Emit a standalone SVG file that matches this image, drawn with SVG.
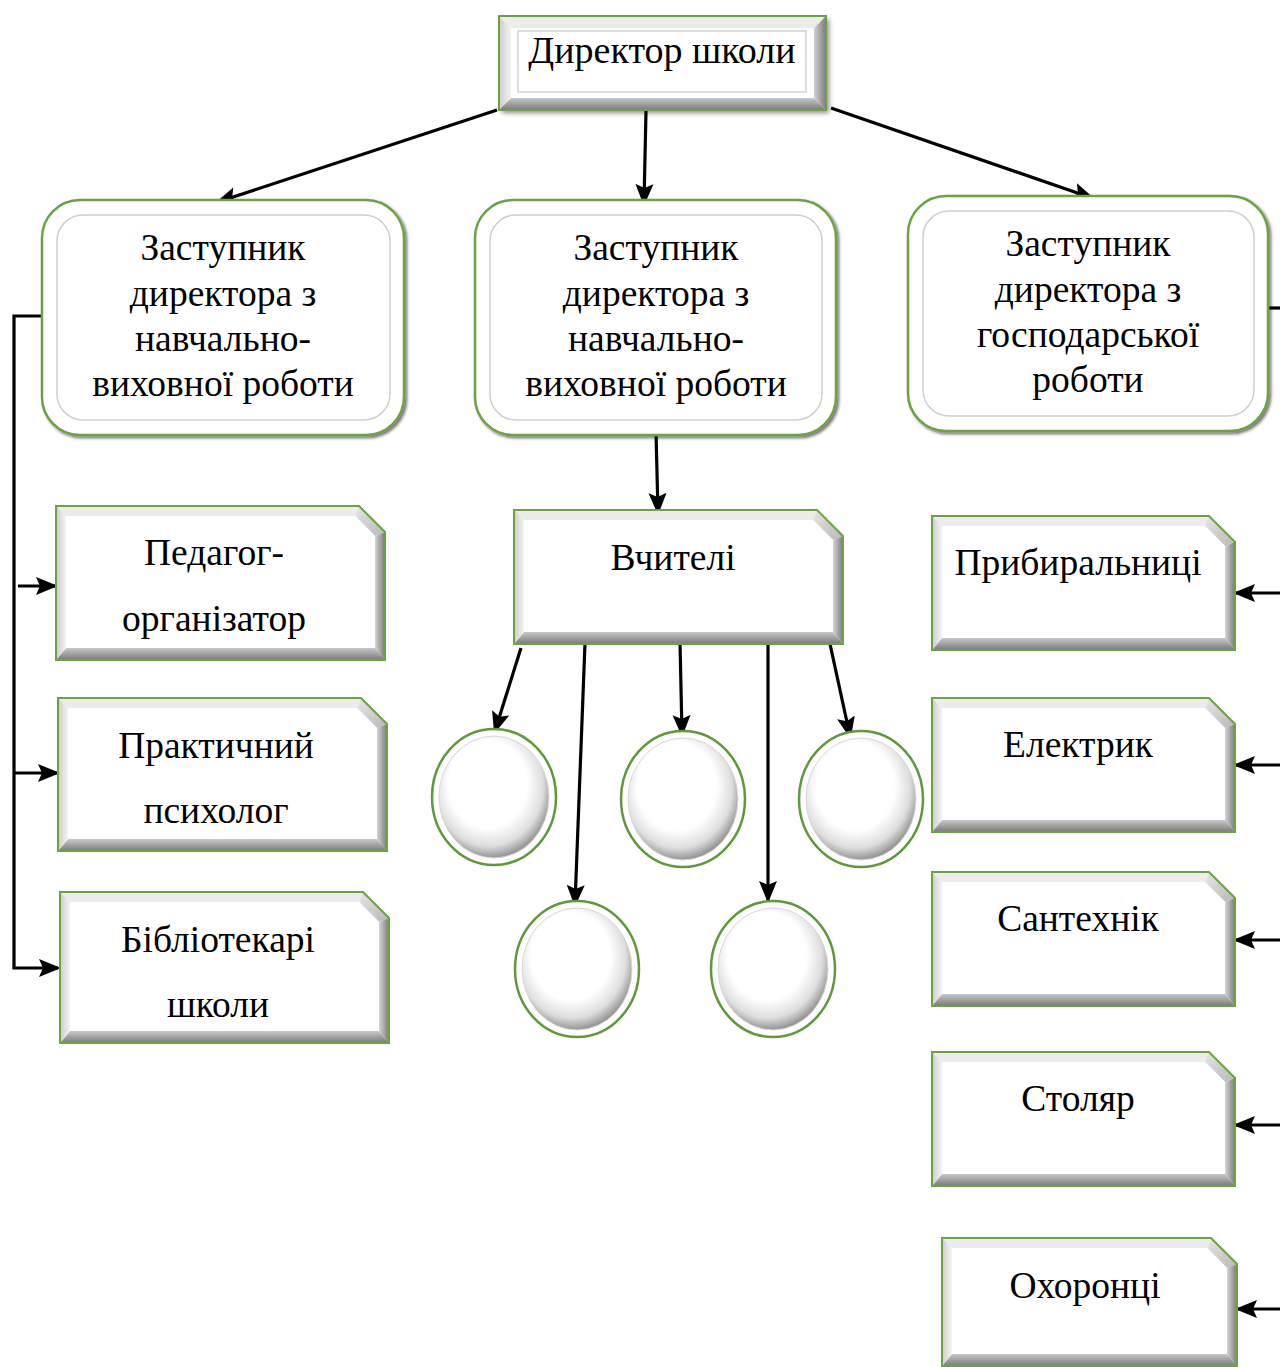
<svg xmlns="http://www.w3.org/2000/svg" width="1280" height="1367" viewBox="0 0 1280 1367">
<style>
text{font-family:"Liberation Serif","Times New Roman",serif;font-size:37.5px;fill:#000;text-anchor:middle}
.ol{fill:none;stroke:#6aa442;stroke-width:2}
.face{fill:#fff}
.bt{fill:#ececec}
.bc{fill:url(#gC)}
.br{fill:url(#gR)}
.bb{fill:url(#gB)}
.bl{fill:url(#gL)}
.rb{fill:#fff;stroke:#6aa442;stroke-width:2.5;filter:url(#sh)}
.rin{fill:#fff;stroke:#cfcfcf;stroke-width:1.5}
.co{fill:#fff;stroke:#5f9a3a;stroke-width:2.5}
.ci{fill:url(#gCi);stroke:#d8d8d8;stroke-width:1}
.cn{fill:none;stroke:#000;stroke-width:3.2}
.ar{marker-end:url(#ah)}
</style>
<defs>
<marker id="ah" markerUnits="userSpaceOnUse" viewBox="0 0 22 20" markerWidth="22" markerHeight="20" refX="19" refY="10" orient="auto">
<path d="M0,1 L22,10 L0,19 L4,10 z" fill="#000"/>
</marker>
<linearGradient id="gL" x1="0" y1="0" x2="1" y2="0"><stop offset="0" stop-color="#cccccc"/><stop offset="1" stop-color="#f4f4f4"/></linearGradient>
<linearGradient id="gR" x1="0" y1="0" x2="1" y2="0"><stop offset="0" stop-color="#d4d4d4"/><stop offset="1" stop-color="#7a7a7a"/></linearGradient>
<linearGradient id="gB" x1="0" y1="0" x2="0" y2="1"><stop offset="0" stop-color="#c8c8c8"/><stop offset="1" stop-color="#7a7a7a"/></linearGradient>
<linearGradient id="gC" x1="0" y1="0" x2="1" y2="1"><stop offset="0" stop-color="#e6e6e6"/><stop offset="1" stop-color="#b8b8b8"/></linearGradient>
<radialGradient id="gCi" cx="0.46" cy="0.42" r="0.6" fx="0.42" fy="0.36"><stop offset="0" stop-color="#ffffff"/><stop offset="0.6" stop-color="#ffffff"/><stop offset="0.82" stop-color="#dedede"/><stop offset="1" stop-color="#858585"/></radialGradient>
<filter id="sh" x="-10%" y="-10%" width="125%" height="125%"><feDropShadow dx="2" dy="2" stdDeviation="1.5" flood-color="#000" flood-opacity="0.55"/></filter>
<filter id="sh2" x="-10%" y="-10%" width="125%" height="130%"><feDropShadow dx="3" dy="3" stdDeviation="2.5" flood-color="#000" flood-opacity="0.45"/></filter>
</defs>

<g id="connectors">
<line class="cn ar" x1="497" y1="110" x2="218" y2="202"/>
<line class="cn ar" x1="646" y1="111" x2="644" y2="203"/>
<line class="cn ar" x1="831" y1="108" x2="1092" y2="198"/>
<line class="cn ar" x1="656" y1="432" x2="658" y2="512"/>
<line class="cn ar" x1="521" y1="648" x2="495" y2="731"/>
<line class="cn ar" x1="585" y1="643" x2="575" y2="904"/>
<line class="cn ar" x1="680" y1="642" x2="682" y2="734"/>
<line class="cn ar" x1="768" y1="645" x2="768" y2="900"/>
<line class="cn ar" x1="830" y1="644" x2="850" y2="736"/>
<polyline class="cn ar" points="42,316 14,316 14,968 58,968"/>
<line class="cn ar" x1="18" y1="586" x2="55" y2="586"/>
<line class="cn ar" x1="14" y1="773" x2="57" y2="773"/>
<line class="cn" x1="1268" y1="308" x2="1280" y2="308"/>
<line class="cn ar" x1="1280" y1="593" x2="1236" y2="593"/>
<line class="cn ar" x1="1280" y1="765" x2="1236" y2="765"/>
<line class="cn ar" x1="1280" y1="940" x2="1236" y2="940"/>
<line class="cn ar" x1="1280" y1="1125" x2="1236" y2="1125"/>
<line class="cn ar" x1="1280" y1="1309" x2="1238" y2="1309"/>
</g>

<g id="director">
<g filter="url(#sh2)">
<rect x="499" y="16" width="327" height="94" fill="#fff"/>
</g>
<polygon class="bl" points="499,16 511,28 511,98 499,110"/>
<polygon class="bt" points="499,16 826,16 814,28 511,28"/>
<polygon class="br" points="826,16 826,110 814,98 814,28"/>
<polygon class="bb" points="499,110 826,110 814,98 511,98"/>
<rect x="511" y="28" width="303" height="70" fill="#fff"/>
<rect x="518" y="31" width="288" height="61" fill="#fff" stroke="#d2d2d2" stroke-width="1.5"/>
<rect class="ol" x="499" y="16" width="327" height="94"/>
<text x="662" y="63" style="font-size:38px">Директор школи</text>
</g>

<g id="deputy-left">
<rect class="rb" x="42" y="200" width="362" height="235" rx="38"/>
<rect class="rin" x="57" y="215" width="333" height="205" rx="26"/>
<text x="223" y="260">Заступник</text>
<text x="223" y="305.5">директора з</text>
<text x="223" y="350.5">навчально-</text>
<text x="223" y="396">виховної роботи</text>
</g>

<g id="deputy-middle">
<rect class="rb" x="475" y="200" width="361" height="235" rx="38"/>
<rect class="rin" x="490" y="215" width="332" height="205" rx="26"/>
<text x="656" y="260">Заступник</text>
<text x="656" y="305.5">директора з</text>
<text x="656" y="350.5">навчально-</text>
<text x="656" y="396">виховної роботи</text>
</g>

<g id="deputy-right">
<rect class="rb" x="908" y="196" width="360" height="235" rx="38"/>
<rect class="rin" x="923" y="211" width="331" height="205" rx="26"/>
<text x="1088" y="256">Заступник</text>
<text x="1088" y="301.5">директора з</text>
<text x="1088" y="346.5">господарської</text>
<text x="1088" y="392">роботи</text>
</g>

<g id="pedagog" transform="translate(56,506)">
<polygon class="bt" points="0,0 303,0 299,10 10,10"/>
<polygon class="bc" points="303,0 329,26 319,30 299,10"/>
<polygon class="br" points="329,26 329,154 319,142 319,30"/>
<polygon class="bb" points="0,154 329,154 319,142 10,142"/>
<polygon class="bl" points="0,0 10,10 10,142 0,154"/>
<polygon class="face" points="10,10 299,10 319,30 319,142 10,142"/>
<polygon class="ol" points="0,0 303,0 329,26 329,154 0,154"/>
<text x="158" y="59">Педагог-</text>
<text x="158" y="125">організатор</text>
</g>

<g id="psycholog" transform="translate(58,698)">
<polygon class="bt" points="0,0 303,0 299,10 10,10"/>
<polygon class="bc" points="303,0 329,26 319,30 299,10"/>
<polygon class="br" points="329,26 329,153 319,141 319,30"/>
<polygon class="bb" points="0,153 329,153 319,141 10,141"/>
<polygon class="bl" points="0,0 10,10 10,141 0,153"/>
<polygon class="face" points="10,10 299,10 319,30 319,141 10,141"/>
<polygon class="ol" points="0,0 303,0 329,26 329,153 0,153"/>
<text x="158" y="60">Практичний</text>
<text x="158" y="125">психолог</text>
</g>

<g id="library" transform="translate(60,892)">
<polygon class="bt" points="0,0 303,0 299,10 10,10"/>
<polygon class="bc" points="303,0 329,26 319,30 299,10"/>
<polygon class="br" points="329,26 329,151 319,139 319,30"/>
<polygon class="bb" points="0,151 329,151 319,139 10,139"/>
<polygon class="bl" points="0,0 10,10 10,139 0,151"/>
<polygon class="face" points="10,10 299,10 319,30 319,139 10,139"/>
<polygon class="ol" points="0,0 303,0 329,26 329,151 0,151"/>
<text x="158" y="60">Бібліотекарі</text>
<text x="158" y="125">школи</text>
</g>

<g id="teachers" transform="translate(514,510)">
<polygon class="bt" points="0,0 303,0 299,10 10,10"/>
<polygon class="bc" points="303,0 329,26 319,30 299,10"/>
<polygon class="br" points="329,26 329,134 319,122 319,30"/>
<polygon class="bb" points="0,134 329,134 319,122 10,122"/>
<polygon class="bl" points="0,0 10,10 10,122 0,134"/>
<polygon class="face" points="10,10 299,10 319,30 319,122 10,122"/>
<polygon class="ol" points="0,0 303,0 329,26 329,134 0,134"/>
<text x="159" y="60">Вчителі</text>
</g>

<g id="c1"><ellipse class="co" cx="494" cy="797" rx="62" ry="68"/><ellipse class="ci" cx="494" cy="797" rx="55" ry="61"/></g>
<g id="c2"><ellipse class="co" cx="683" cy="799" rx="62" ry="68"/><ellipse class="ci" cx="683" cy="799" rx="55" ry="61"/></g>
<g id="c3"><ellipse class="co" cx="861" cy="799" rx="62" ry="68"/><ellipse class="ci" cx="861" cy="799" rx="55" ry="61"/></g>
<g id="c4"><ellipse class="co" cx="577" cy="969" rx="62" ry="68"/><ellipse class="ci" cx="577" cy="969" rx="55" ry="61"/></g>
<g id="c5"><ellipse class="co" cx="773" cy="969" rx="62" ry="68"/><ellipse class="ci" cx="773" cy="969" rx="55" ry="61"/></g>

<g id="cleaners" transform="translate(932,516)">
<polygon class="bt" points="0,0 277,0 273,10 10,10"/>
<polygon class="bc" points="277,0 303,26 293,30 273,10"/>
<polygon class="br" points="303,26 303,134 293,122 293,30"/>
<polygon class="bb" points="0,134 303,134 293,122 10,122"/>
<polygon class="bl" points="0,0 10,10 10,122 0,134"/>
<polygon class="face" points="10,10 273,10 293,30 293,122 10,122"/>
<polygon class="ol" points="0,0 277,0 303,26 303,134 0,134"/>
<text x="146" y="59">Прибиральниці</text>
</g>

<g id="electrician" transform="translate(932,698)">
<polygon class="bt" points="0,0 277,0 273,10 10,10"/>
<polygon class="bc" points="277,0 303,26 293,30 273,10"/>
<polygon class="br" points="303,26 303,134 293,122 293,30"/>
<polygon class="bb" points="0,134 303,134 293,122 10,122"/>
<polygon class="bl" points="0,0 10,10 10,122 0,134"/>
<polygon class="face" points="10,10 273,10 293,30 293,122 10,122"/>
<polygon class="ol" points="0,0 277,0 303,26 303,134 0,134"/>
<text x="146" y="59">Електрик</text>
</g>

<g id="plumber" transform="translate(932,872)">
<polygon class="bt" points="0,0 277,0 273,10 10,10"/>
<polygon class="bc" points="277,0 303,26 293,30 273,10"/>
<polygon class="br" points="303,26 303,134 293,122 293,30"/>
<polygon class="bb" points="0,134 303,134 293,122 10,122"/>
<polygon class="bl" points="0,0 10,10 10,122 0,134"/>
<polygon class="face" points="10,10 273,10 293,30 293,122 10,122"/>
<polygon class="ol" points="0,0 277,0 303,26 303,134 0,134"/>
<text x="146" y="59">Сантехнік</text>
</g>

<g id="carpenter" transform="translate(932,1052)">
<polygon class="bt" points="0,0 277,0 273,10 10,10"/>
<polygon class="bc" points="277,0 303,26 293,30 273,10"/>
<polygon class="br" points="303,26 303,134 293,122 293,30"/>
<polygon class="bb" points="0,134 303,134 293,122 10,122"/>
<polygon class="bl" points="0,0 10,10 10,122 0,134"/>
<polygon class="face" points="10,10 273,10 293,30 293,122 10,122"/>
<polygon class="ol" points="0,0 277,0 303,26 303,134 0,134"/>
<text x="146" y="59">Столяр</text>
</g>

<g id="guards" transform="translate(942,1238)">
<polygon class="bt" points="0,0 269,0 265,10 10,10"/>
<polygon class="bc" points="269,0 295,26 285,30 265,10"/>
<polygon class="br" points="295,26 295,128 285,116 285,30"/>
<polygon class="bb" points="0,128 295,128 285,116 10,116"/>
<polygon class="bl" points="0,0 10,10 10,116 0,128"/>
<polygon class="face" points="10,10 265,10 285,30 285,116 10,116"/>
<polygon class="ol" points="0,0 269,0 295,26 295,128 0,128"/>
<text x="143" y="60">Охоронці</text>
</g>
</svg>
